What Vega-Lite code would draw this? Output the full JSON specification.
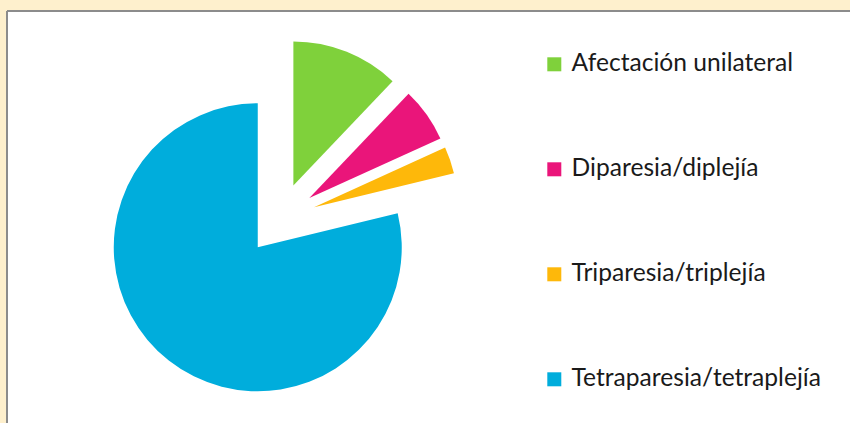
{
  "$schema": "https://vega.github.io/schema/vega-lite/v6.json",
  "width": 843,
  "height": 412,
  "autosize": {"type": "none"},
  "padding": {"left": 7, "top": 11, "right": 0, "bottom": 0},
  "background": "#FEF0CD",
  "config": {"view": {"fill": "white", "stroke": "#8C8C8C", "strokeWidth": 2, "strokeDash": [843, 1255, 412, 0]}},
  "view": {"fill": "white", "stroke": "#8C8C8C", "strokeWidth": 2, "strokeDash": [843, 1255, 412, 0]},
  "data": {"values": [
    {"categoria": "Afectación unilateral", "porcentaje": 12.1, "orden": 1},
    {"categoria": "Diparesia/diplejía", "porcentaje": 6.1, "orden": 2},
    {"categoria": "Triparesia/triplejía", "porcentaje": 3.0, "orden": 3},
    {"categoria": "Tetraparesia/tetraplejía", "porcentaje": 78.8, "orden": 4}
  ]},
  "layer": [
    {
      "mark": {
        "type": "arc",
        "outerRadius": 144,
        "x": 273,
        "y": 208,
        "xOffset": {"expr": "36*sin(scale('theta', (datum.porcentaje_start + datum.porcentaje_end)/2))"},
        "yOffset": {"expr": "-36*cos(scale('theta', (datum.porcentaje_start + datum.porcentaje_end)/2))"}
      },
      "encoding": {
        "theta": {"field": "porcentaje", "type": "quantitative", "stack": true},
        "order": {"field": "orden", "type": "quantitative"},
        "color": {
          "field": "categoria",
          "type": "nominal",
          "scale": {
            "domain": ["Afectación unilateral", "Diparesia/diplejía", "Triparesia/triplejía", "Tetraparesia/tetraplejía"],
            "range": ["#7FD13B", "#EA157A", "#FEB80A", "#00ADDC"]
          },
          "legend": {
            "orient": "none",
            "legendX": 535,
            "legendY": 41,
            "title": null,
            "symbolType": "square",
            "symbolSize": 196,
            "symbolStrokeWidth": 0,
            "labelFont": "Lato",
            "labelFontSize": 24.6,
            "labelColor": "#1A1A1A",
            "labelOffset": 5,
            "rowPadding": 80,
            "labelLimit": 400
          }
        }
      }
    }
  ]
}
